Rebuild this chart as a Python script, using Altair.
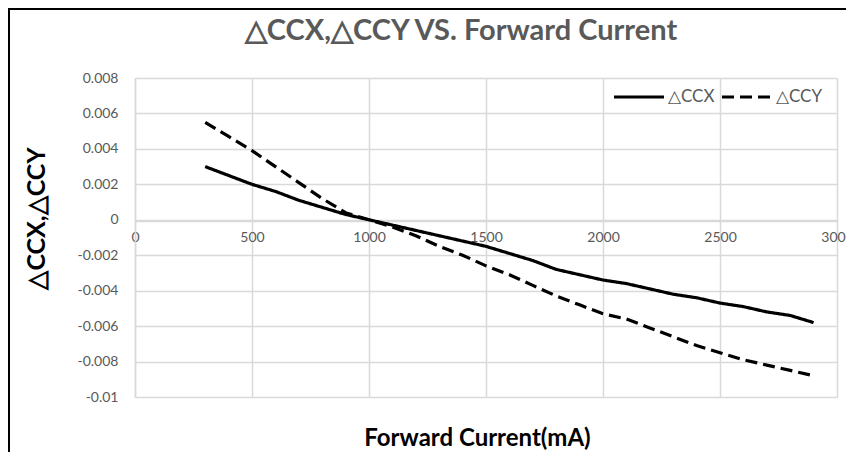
import altair as alt
import pandas as pd

current = [300, 400, 500, 600, 700, 800, 900, 1000, 1100, 1200, 1300, 1400, 1500, 1600,
           1700, 1800, 1900, 2000, 2100, 2200, 2300, 2400, 2500, 2600, 2700, 2800, 2900]
dccx = [0.0030, 0.0025, 0.0020, 0.0016, 0.0011, 0.0007, 0.0003, 0.0000, -0.0003, -0.0006,
        -0.0009, -0.0012, -0.0015, -0.0019, -0.0023, -0.0028, -0.0031, -0.0034, -0.0036,
        -0.0039, -0.0042, -0.0044, -0.0047, -0.0049, -0.0052, -0.0054, -0.0058]
dccy = [0.0055, 0.0047, 0.0039, 0.0030, 0.0021, 0.0012, 0.0004, 0.0000, -0.0004, -0.0009,
        -0.0015, -0.0020, -0.0026, -0.0031, -0.0037, -0.0043, -0.0048, -0.0053, -0.0056,
        -0.0061, -0.0066, -0.0071, -0.0075, -0.0079, -0.0082, -0.0085, -0.0088]
series_names = ["△CCX", "△CCY"]
x_ticks = [0, 500, 1000, 1500, 2000, 2500, 3000]
y_ticks = [0.008, 0.006, 0.004, 0.002, 0, -0.002, -0.004, -0.006, -0.008, -0.01]
chart_title = "△CCX,△CCY VS. Forward Current"

rows = []
for i, c in enumerate(current):
    rows.append({"current": c, "value": dccx[i], "series": series_names[0]})
    rows.append({"current": c, "value": dccy[i], "series": series_names[1]})
df = pd.DataFrame(rows)

W, H = 702, 319
GRID = "#d9d9d9"
LABEL = "#595959"
FONT = "Lato"

lines = alt.Chart(df).mark_line(strokeWidth=3.2, color="black").encode(
    x=alt.X("current:Q",
            scale=alt.Scale(domain=[0, 3000], nice=False, zero=False),
            axis=alt.Axis(values=x_ticks, labelExpr="'' + datum.value",
                          title="Forward Current(mA)", offset=-176,
                          domainColor=GRID, domainWidth=1.5, ticks=False,
                          gridColor=GRID, gridWidth=1.5,
                          labelColor=LABEL, labelFont=FONT, labelFontSize=14, labelPadding=9,
                          labelOverlap=False, labelFlush=False,
                          titleFont=FONT, titleFontSize=24, titleFontWeight="bold",
                          titleColor="black", titleX=342, titleY=224,
                          titleBaseline="alphabetic")),
    y=alt.Y("value:Q",
            scale=alt.Scale(domain=[-0.01, 0.008], nice=False, zero=False),
            axis=alt.Axis(values=y_ticks, labelExpr="'' + datum.value", title="△CCX,△CCY",
                          domainColor=GRID, domainWidth=1.5, ticks=False,
                          gridColor=GRID, gridWidth=1.5,
                          labelColor=LABEL, labelFont=FONT, labelFontSize=14, labelPadding=17,
                          labelOverlap=False,
                          titleFont=FONT, titleFontSize=25, titleFontWeight="bold",
                          titleColor="black", titleX=-91, titleY=140, titleAngle=-90,
                          titleAlign="center", titleBaseline="alphabetic")),
    strokeDash=alt.StrokeDash("series:N",
                              scale=alt.Scale(domain=series_names, range=[[1, 0], [12, 6]]),
                              legend=alt.Legend(title=None, orient="none", direction="horizontal",
                                                legendX=477, legendY=-8,
                                                symbolType="stroke", symbolSize=2500,
                                                symbolStrokeWidth=3.2, symbolStrokeColor="black",
                                                labelFont=FONT, labelFontSize=17,
                                                labelColor=LABEL, labelOffset=2,
                                                columnPadding=0)),
)

one_row = pd.DataFrame({"t": [chart_title]})
title_mark = alt.Chart(one_row).mark_text(
    font=FONT, fontSize=29, fontWeight="bold", color=LABEL, align="center", baseline="middle"
).encode(text="t:N", x=alt.value(326), y=alt.value(-47))

left_border = alt.Chart(one_row).mark_rule(color="black", strokeWidth=2).encode(
    x=alt.value(-126), y=alt.value(-70), y2=alt.value(H + 55))
top_border = alt.Chart(one_row).mark_rule(color="black", strokeWidth=2).encode(
    x=alt.value(-127), x2=alt.value(W + 9), y=alt.value(-69))

chart = alt.layer(lines, title_mark, left_border, top_border).properties(
    width=W, height=H,
    autosize=alt.AutoSizeParams(type="none"),
    padding={"left": 127, "top": 70, "right": 9, "bottom": 55},
).configure_view(stroke=None)

chart.save("out.html", embed_options={"renderer": "svg", "actions": False})
